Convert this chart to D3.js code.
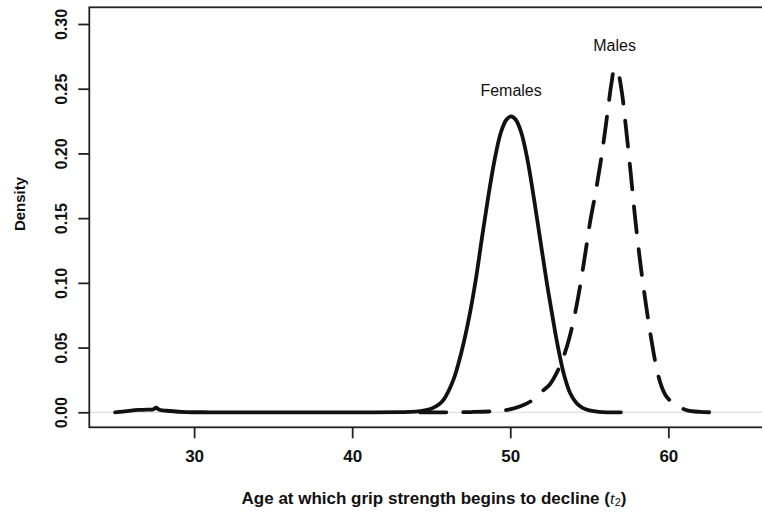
<!DOCTYPE html>
<html>
<head>
<meta charset="utf-8">
<script src="https://cdn.jsdelivr.net/npm/d3@7"></script>
<style>
  body { margin: 0; background: #fff; }
  svg { display: block; }
  text { font-family: "Liberation Sans", Arial, sans-serif; fill: #111; }
</style>
</head>
<body>
<script>
var width = 762;
var height = 515;

// density curves
var femaleAge = [25.0, 25.5, 26.0, 26.5, 27.0, 27.4, 27.6, 27.8, 28.5, 29.5, 31, 35, 40, 43, 44, 45.0,
  45.5, 45.8, 46.4, 46.9, 47.4, 47.8, 48.2, 48.6, 49.0, 49.4, 49.75, 50.05, 50.35, 50.7, 51.1, 51.5,
  51.9, 52.3, 52.7, 53.0, 53.4, 53.8, 54.2, 54.6, 55.0, 55.6, 57.0];
var femaleDens = [0.0000, 0.0005, 0.0013, 0.0018, 0.0020, 0.0022, 0.0036, 0.0020, 0.0010, 0.0002, 0, 0, 0, 0.0001, 0.0005, 0.0028,
  0.0062, 0.0100, 0.0250, 0.0460, 0.0735, 0.1010, 0.1340, 0.1660, 0.1945, 0.2160, 0.2260, 0.2286, 0.2260, 0.2160, 0.1945, 0.1650,
  0.1330, 0.1010, 0.0720, 0.0515, 0.0290, 0.0145, 0.0070, 0.0032, 0.0015, 0.0004, 0.0000];

var maleAge = [44.3, 46, 47.5, 49, 49.8, 50.6, 51.3, 52.0, 52.5, 53.0, 53.4, 53.75, 54.1, 54.45, 54.75,
  55.05, 55.4, 55.7, 55.95, 56.2, 56.4, 56.6, 56.8, 57.05, 57.3, 57.6, 57.9, 58.2, 58.54, 58.86,
  59.28, 59.6, 59.92, 60.55, 61.2, 62.0, 62.9];
var maleDens = [0, 0, 0.0002, 0.0008, 0.0018, 0.0045, 0.0085, 0.0160, 0.0215, 0.0320, 0.0440, 0.0580, 0.0766, 0.0998, 0.1230,
  0.1470, 0.1700, 0.1920, 0.2130, 0.2360, 0.2540, 0.2655, 0.2630, 0.2480, 0.2220, 0.1870, 0.1500, 0.1180, 0.0869, 0.0611,
  0.0327, 0.0190, 0.0115, 0.0050, 0.0015, 0.0003, 0];

var xTicks = [30, 40, 50, 60];
var yTicks = [0, 0.05, 0.10, 0.15, 0.20, 0.25, 0.30];

var svg = d3.select('body').append('svg')
    .attr('width', width)
    .attr('height', height)

var x = d3.scaleLinear().domain([23.37, 67.0]).range([89.3, 779])
var y = d3.scaleLinear().domain([-0.0116, 0.3129]).range([427.3, 7.3])

// zero line like R's plot.density
svg.append('line')
    .attr('x1', x.range()[0]).attr('x2', x.range()[1])
    .attr('y1', y(0)).attr('y2', y(0))
    .attr('stroke', '#d8d8d8')
    .attr('stroke-width', 1)

var line = d3.line()
    .x(d => x(d[0]))
    .y(d => y(d[1]))
    .curve(d3.curveCatmullRom)

svg.append('path')
    .datum(maleAge.map((a, i) => [a, maleDens[i]]))
    .attr('d', line)
    .attr('fill', 'none')
    .attr('stroke', '#111')
    .attr('stroke-width', 3.8)
    .attr('stroke-linecap', 'round')
    .attr('stroke-dasharray', '26,17')

svg.append('path')
    .datum(femaleAge.map((a, i) => [a, femaleDens[i]]))
    .attr('d', line)
    .attr('fill', 'none')
    .attr('stroke', '#111')
    .attr('stroke-width', 3.8)
    .attr('stroke-linecap', 'round')
    .attr('stroke-linejoin', 'round')

// plot box
svg.append('rect')
    .attr('x', x.range()[0]).attr('y', y.range()[1])
    .attr('width', x.range()[1] - x.range()[0])
    .attr('height', y.range()[0] - y.range()[1])
    .attr('fill', 'none')
    .attr('stroke', '#222')
    .attr('stroke-width', 1.8)

var xAxis = svg.append('g')
    .attr('transform', 'translate(0,' + y.range()[0] + ')')
    .call(d3.axisBottom(x).tickValues(xTicks).tickSize(11).tickPadding(12))
xAxis.select('.domain').remove()
xAxis.selectAll('line').attr('stroke', '#222').attr('stroke-width', 1.8)
xAxis.selectAll('text')
    .attr('font-size', '17px').attr('font-weight', 'bold')
    .attr('font-family', '"Liberation Sans", Arial, sans-serif').attr('fill', '#111')

var yAxis = svg.append('g')
    .attr('transform', 'translate(' + x.range()[0] + ',0)')
    .call(d3.axisLeft(y).tickValues(yTicks).tickSize(11).tickFormat(d3.format('.2f')))
yAxis.select('.domain').remove()
yAxis.selectAll('line').attr('stroke', '#222').attr('stroke-width', 1.8)
yAxis.selectAll('text')
    .attr('font-size', '16px').attr('font-weight', 'bold')
    .attr('font-family', '"Liberation Sans", Arial, sans-serif').attr('fill', '#111')
    .attr('x', null).attr('dy', null)
    .attr('text-anchor', 'middle')
    .attr('dominant-baseline', 'central')
    .attr('transform', 'translate(-28,0) rotate(-90)')

// curve labels
svg.append('text')
    .attr('x', x(50.05)).attr('y', 90)
    .attr('text-anchor', 'middle').attr('dominant-baseline', 'central')
    .attr('font-size', '16px')
    .text('Females')
svg.append('text')
    .attr('x', x(56.6)).attr('y', 45)
    .attr('text-anchor', 'middle').attr('dominant-baseline', 'central')
    .attr('font-size', '16px')
    .text('Males')

// axis titles
var xt = svg.append('text')
    .attr('x', 434).attr('y', 498)
    .attr('text-anchor', 'middle').attr('dominant-baseline', 'central')
    .attr('font-size', '17px').attr('font-weight', 'bold')
xt.append('tspan').text('Age at which grip strength begins to decline (')
xt.append('tspan').attr('font-style', 'italic').attr('font-weight', 'normal').attr('font-family', '"Liberation Serif", serif').text('t')
xt.append('tspan').attr('font-size', '11px').attr('font-weight', 'normal').attr('dy', 4).text('2')
xt.append('tspan').attr('dy', -4).text(')')

svg.append('text')
    .attr('transform', 'translate(19,204) rotate(-90)')
    .attr('text-anchor', 'middle').attr('dominant-baseline', 'central')
    .attr('font-size', '15px').attr('font-weight', 'bold')
    .text('Density')
</script>
</body>
</html>
